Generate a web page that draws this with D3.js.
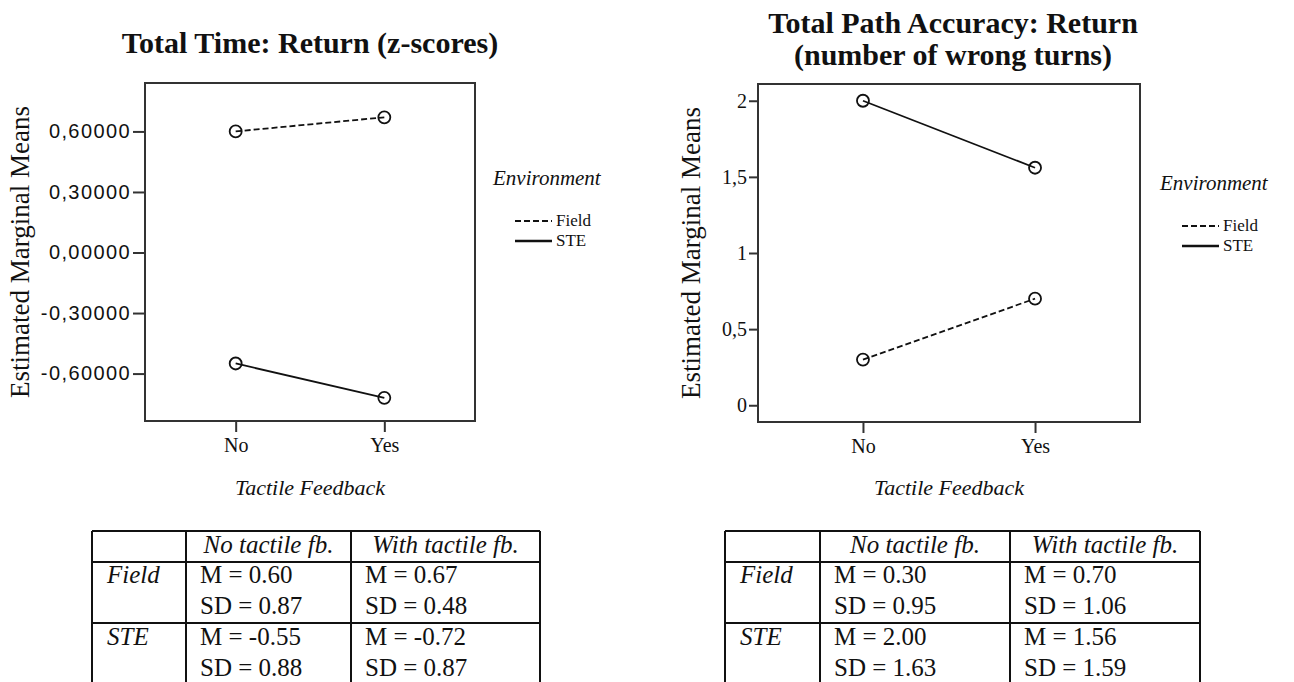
<!DOCTYPE html>
<html>
<head>
<meta charset="utf-8">
<script src="https://cdn.jsdelivr.net/npm/d3@7/dist/d3.min.js"></script>
<style>
body { margin: 0; background: #fff; }
svg text { font-family: "Liberation Serif", "Times New Roman", serif; fill: #111; }
</style>
</head>
<body>
<script>
// categories
var feedback = ["No", "Yes"];
var environments = ["Field", "STE"];
var colHeads = ["No tactile fb.", "With tactile fb."];

// total time (z-scores)
var timeField = [0.60, 0.67];
var timeSTE = [-0.55, -0.72];
var timeFieldSD = [0.87, 0.48];
var timeSTESD = [0.88, 0.87];
var timeTicks = [-0.6, -0.3, 0, 0.3, 0.6];

// path accuracy (wrong turns)
var pathField = [0.30, 0.70];
var pathSTE = [2.00, 1.56];
var pathFieldSD = [0.95, 1.06];
var pathSTESD = [1.63, 1.59];
var pathTicks = [0, 0.5, 1, 1.5, 2];

var width = 1294, height = 682;
var svg = d3.select("body").append("svg")
    .attr("width", width)
    .attr("height", height);

var commaLocale = d3.formatLocale({decimal: ",", thousands: ".", grouping: [3], currency: ["", ""], minus: "-"});
var dotLocale = d3.formatLocale({decimal: ".", thousands: ",", grouping: [3], currency: ["", ""], minus: "-"});
var fmt2 = dotLocale.format(".2f");

var drawPanel = function (p) {
    var g = svg.append("g");
    var x = d3.scalePoint().domain(feedback).range([p.left, p.right]).padding(0.61);
    var y = d3.scaleLinear().domain(p.yDomain).range([p.bottom, p.top]);

    // titles
    g.selectAll(".title")
        .data(p.title)
        .enter()
        .append("text")
        .attr("class", "title")
        .attr("x", p.titleX)
        .attr("y", function (d, i) { return p.titleY + i * 32; })
        .attr("text-anchor", "middle")
        .attr("font-size", 30)
        .attr("font-weight", "bold")
        .text(function (d) { return d; });

    // y axis
    var ya = g.append("g")
        .attr("transform", "translate(" + p.left + ",0)")
        .call(d3.axisLeft(y).tickValues(p.ticks).tickFormat(p.fmt).tickSize(p.tickLen).tickPadding(2));
    ya.select(".domain").remove();
    ya.selectAll("line").attr("stroke", "#333").attr("stroke-width", 2);
    ya.selectAll("text")
        .style("font-family", p.tickFont)
        .style("letter-spacing", p.tickSpacing + "px")
        .attr("font-size", p.tickSize)
        .attr("fill", "#222");

    // x axis
    var xa = g.append("g")
        .attr("transform", "translate(0," + p.bottom + ")")
        .call(d3.axisBottom(x).tickSize(11).tickPadding(6));
    xa.select(".domain").remove();
    xa.selectAll("line").attr("stroke", "#333").attr("stroke-width", 2);
    xa.selectAll("text")
        .style("font-family", "'Liberation Serif', serif")
        .attr("font-size", 20)
        .attr("fill", "#111");

    // frame
    g.append("rect")
        .attr("x", p.left).attr("y", p.top)
        .attr("width", p.right - p.left).attr("height", p.bottom - p.top)
        .attr("fill", "none").attr("stroke", "#333").attr("stroke-width", 2);

    // axis titles
    g.append("text")
        .attr("transform", "translate(" + p.yTitleX + "," + ((p.top + p.bottom) / 2) + ") rotate(-90)")
        .attr("text-anchor", "middle")
        .attr("font-size", 27)
        .text("Estimated Marginal Means");
    g.append("text")
        .attr("x", (p.left + p.right) / 2)
        .attr("y", 495)
        .attr("text-anchor", "middle")
        .attr("font-size", 22)
        .attr("font-style", "italic")
        .text("Tactile Feedback");

    // series
    var series = [
        {name: environments[0], values: p.field, dash: "6,3"},
        {name: environments[1], values: p.ste, dash: null}
    ];
    var line = d3.line()
        .x(function (d, i) { return x(feedback[i]); })
        .y(function (d) { return y(d); });
    var sg = g.selectAll(".series")
        .data(series)
        .enter()
        .append("g")
        .attr("class", "series");
    sg.append("path")
        .attr("d", function (d) { return line(d.values); })
        .attr("fill", "none")
        .attr("stroke", "#111")
        .attr("stroke-width", 1.8)
        .attr("stroke-dasharray", function (d) { return d.dash; });
    sg.selectAll("circle")
        .data(function (d) { return d.values; })
        .enter()
        .append("circle")
        .attr("cx", function (d, i) { return x(feedback[i]); })
        .attr("cy", function (d) { return y(d); })
        .attr("r", 6)
        .attr("fill", "none")
        .attr("stroke", "#111")
        .attr("stroke-width", 1.8);

    // legend
    var lg = g.append("g");
    lg.append("text")
        .attr("x", p.legX)
        .attr("y", p.legY)
        .attr("font-size", 21)
        .attr("font-style", "italic")
        .text("Environment");
    var items = lg.selectAll(".item")
        .data(series)
        .enter()
        .append("g")
        .attr("class", "item")
        .attr("transform", function (d, i) { return "translate(" + (p.legX + 22) + "," + (p.legY + 36 + i * p.legStep) + ")"; });
    items.append("line")
        .attr("x1", 0).attr("x2", 37)
        .attr("stroke", "#111")
        .attr("stroke-width", function (d) { return d.dash ? 1.8 : 2.4; })
        .attr("stroke-dasharray", function (d) { return d.dash ? "6,3" : null; });
    items.append("text")
        .attr("x", 41)
        .attr("y", 5)
        .attr("font-size", 17)
        .text(function (d) { return d.name; });

    // table
    var tg = g.append("g");
    var cols = p.tableCols;
    var rows = [531, 562, 623, 686];
    tg.selectAll(".hl")
        .data(rows)
        .enter()
        .append("line")
        .attr("x1", cols[0]).attr("x2", cols[3])
        .attr("y1", function (d) { return d; }).attr("y2", function (d) { return d; })
        .attr("stroke", "#111").attr("stroke-width", 2);
    tg.selectAll(".vl")
        .data(cols)
        .enter()
        .append("line")
        .attr("x1", function (d) { return d; }).attr("x2", function (d) { return d; })
        .attr("y1", rows[0]).attr("y2", height)
        .attr("stroke", "#111").attr("stroke-width", 2);
    tg.selectAll(".head")
        .data(colHeads)
        .enter()
        .append("text")
        .attr("x", function (d, i) { return (cols[i + 1] + cols[i + 2]) / 2; })
        .attr("y", 553)
        .attr("text-anchor", "middle")
        .attr("font-size", 25)
        .attr("font-style", "italic")
        .text(function (d) { return d; });
    var cells = [
        {env: environments[0], m: p.field, sd: p.fieldSD},
        {env: environments[1], m: p.ste, sd: p.steSD}
    ];
    var rg = tg.selectAll(".row")
        .data(cells)
        .enter()
        .append("g")
        .attr("transform", function (d, i) { return "translate(0," + (583 + i * 62) + ")"; });
    rg.append("text")
        .attr("x", cols[0] + 15)
        .attr("font-size", 25)
        .attr("font-style", "italic")
        .text(function (d) { return d.env; });
    [0, 1].forEach(function (c) {
        rg.append("text")
            .attr("x", cols[c + 1] + 14)
            .attr("font-size", 25)
            .text(function (d) { return "M = " + fmt2(d.m[c]); });
        rg.append("text")
            .attr("x", cols[c + 1] + 14)
            .attr("y", 31)
            .attr("font-size", 25)
            .text(function (d) { return "SD = " + fmt2(d.sd[c]); });
    });
};

drawPanel({
    title: ["Total Time: Return (z-scores)"],
    titleX: 310, titleY: 53,
    left: 145, right: 475, top: 83, bottom: 421,
    yDomain: [-0.835, 0.84],
    ticks: timeTicks,
    fmt: commaLocale.format(".5f"),
    tickFont: "'Liberation Sans', Arial, sans-serif",
    tickSize: 20, tickSpacing: 1.4, tickLen: 12,
    yTitleX: 29,
    field: timeField, ste: timeSTE,
    fieldSD: timeFieldSD, steSD: timeSTESD,
    legX: 493, legY: 185, legStep: 20,
    tableCols: [92, 186, 351, 540]
});

drawPanel({
    title: ["Total Path Accuracy: Return", "(number of wrong turns)"],
    titleX: 953, titleY: 33,
    left: 758, right: 1140, top: 84, bottom: 422,
    yDomain: [-0.11, 2.11],
    ticks: pathTicks,
    fmt: commaLocale.format("~f"),
    tickFont: "'Liberation Serif', serif",
    tickSize: 20, tickSpacing: 0, tickLen: 9,
    yTitleX: 700,
    field: pathField, ste: pathSTE,
    fieldSD: pathFieldSD, steSD: pathSTESD,
    legX: 1160, legY: 190, legStep: 20,
    tableCols: [725, 820, 1010, 1200]
});
</script>
</body>
</html>
